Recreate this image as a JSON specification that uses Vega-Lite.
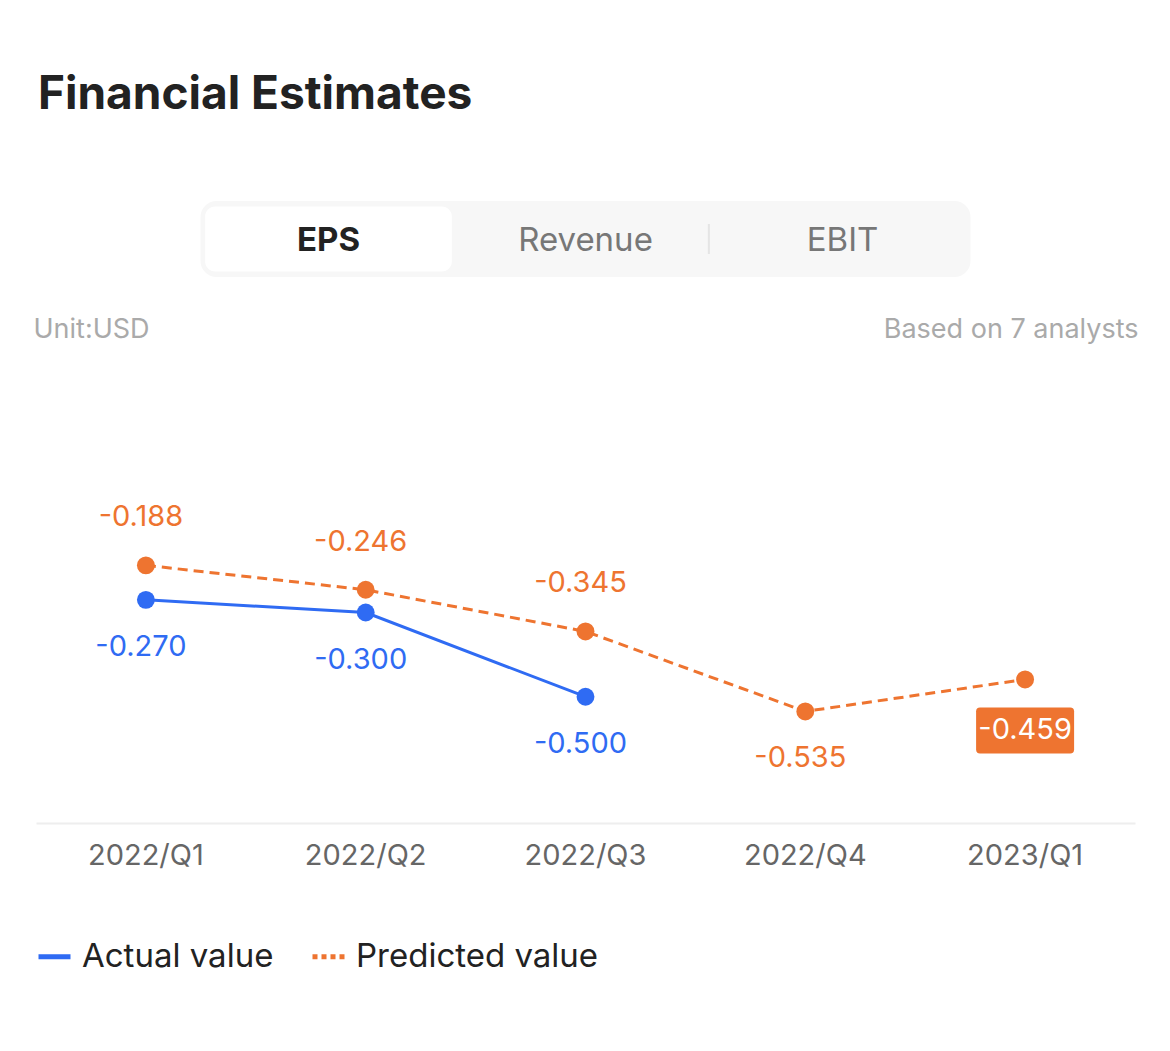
{
  "$schema": "https://vega.github.io/schema/vega-lite/v6.json",
  "background": "white",
  "padding": {"left": 33, "top": 72, "right": 0, "bottom": 20},
  "title": {"text": "Financial Estimates", "anchor": "start", "fontSize": 46, "fontWeight": "bold", "color": "#222222", "offset": 82, "dx": 5},
  "spacing": 125,
  "bounds": "flush",
  "center": true,
  "config": {
    "font": "Inter",
    "view": {"stroke": null},
    "locale": {"number": {"decimal": ".", "thousands": ",", "grouping": [3], "currency": ["$", ""], "minus": "-"}}
  },
  "vconcat": [
    {
      "width": 770,
      "height": 76,
      "view": {"fill": "#f7f7f7", "cornerRadius": 16, "stroke": null},
      "data": {"values": [
        {"tab": "EPS", "active": true},
        {"tab": "Revenue", "active": false},
        {"tab": "EBIT", "active": false}
      ]},
      "encoding": {
        "x": {"field": "tab", "type": "nominal", "sort": null, "scale": {"type": "band", "paddingInner": 0.04, "paddingOuter": 0.018}, "axis": null}
      },
      "layer": [
        {
          "transform": [{"filter": "datum.active"}],
          "mark": {"type": "rect", "fill": "#ffffff", "cornerRadius": 10},
          "encoding": {"y": {"datum": "tab", "type": "nominal", "scale": {"type": "band", "paddingOuter": 0.085, "paddingInner": 0}, "axis": null}}
        },
        {
          "transform": [{"filter": "datum.active"}],
          "mark": {"type": "text", "fontSize": 33, "fontWeight": "bold", "color": "#222222", "dy": 2},
          "encoding": {"text": {"field": "tab"}}
        },
        {
          "transform": [{"filter": "!datum.active"}],
          "mark": {"type": "text", "fontSize": 33, "color": "#777777", "dy": 2},
          "encoding": {"text": {"field": "tab"}}
        },
        {
          "transform": [{"filter": "datum.active"}],
          "mark": {"type": "tick", "orient": "vertical", "size": 30, "thickness": 2, "color": "#dddddd"},
          "encoding": {"x": {"datum": "Revenue", "type": "nominal", "bandPosition": 1}}
        }
      ]
    },
    {
      "width": 1099,
      "height": 421,
      "data": {"values": [
        {"quarter": "2022/Q1", "series": "Actual value", "value": -0.27},
        {"quarter": "2022/Q2", "series": "Actual value", "value": -0.3},
        {"quarter": "2022/Q3", "series": "Actual value", "value": -0.5},
        {"quarter": "2022/Q1", "series": "Predicted value", "value": -0.188},
        {"quarter": "2022/Q2", "series": "Predicted value", "value": -0.246},
        {"quarter": "2022/Q3", "series": "Predicted value", "value": -0.345},
        {"quarter": "2022/Q4", "series": "Predicted value", "value": -0.535},
        {"quarter": "2023/Q1", "series": "Predicted value", "value": -0.459}
      ]},
      "encoding": {
        "x": {
          "field": "quarter", "type": "ordinal", "sort": null,
          "scale": {"type": "band", "paddingInner": 0, "paddingOuter": 0},
          "axis": {"title": null, "domainColor": "#eeeeee", "domainWidth": 2, "ticks": false, "labelFontSize": 29, "labelColor": "#666666", "labelPadding": 18, "labelAngle": 0}
        },
        "y": {"field": "value", "type": "quantitative", "scale": {"domain": [-0.8, 0.2], "nice": false, "zero": false}, "axis": null}
      },
      "resolve": {"axis": {"y": "independent"}},
      "layer": [
        {
          "transform": [{"filter": "datum.series == 'Actual value'"}],
          "mark": {"type": "line", "strokeWidth": 3},
          "encoding": {
            "y": {"field": "value", "type": "quantitative", "axis": {"orient": "left", "title": "Unit:USD", "labels": false, "ticks": false, "domain": false, "grid": false, "titleAngle": 0, "titleAlign": "left", "titleBaseline": "middle", "titleX": -3, "titleY": -73, "titleFontSize": 27, "titleColor": "#aaaaaa", "titleFontWeight": "normal"}},
            "color": {
              "field": "series", "type": "nominal",
              "scale": {"domain": ["Actual value", "Predicted value"], "range": ["#2f6bf3", "#ee7430"]},
              "legend": {
                "title": null, "orient": "bottom", "direction": "horizontal", "symbolType": "stroke", "symbolSize": 1024, "symbolStrokeWidth": 5,
                "labelFontSize": 33, "labelColor": "#222222", "labelLimit": 500, "columnPadding": 28, "labelOffset": 9, "offset": 68,
                "encode": {"symbols": {"update": {"strokeDash": {"signal": "datum.value == 'Predicted value' ? [5, 4] : [1, 0]"}}}}
              }
            }
          }
        },
        {
          "transform": [{"filter": "datum.series == 'Predicted value'"}],
          "mark": {"type": "line", "strokeWidth": 3, "strokeDash": [10, 6]},
          "encoding": {
            "y": {"field": "value", "type": "quantitative", "axis": null},
            "color": {"field": "series", "type": "nominal"}
          }
        },
        {
          "mark": {"type": "point", "filled": true, "size": 320, "opacity": 1},
          "encoding": {
            "y": {"field": "value", "type": "quantitative", "axis": {"orient": "right", "title": "Based on 7 analysts", "labels": false, "ticks": false, "domain": false, "grid": false, "titleAngle": 0, "titleAlign": "right", "titleBaseline": "middle", "titleX": 3, "titleY": -73, "titleFontSize": 27, "titleColor": "#aaaaaa", "titleFontWeight": "normal"}},
            "color": {"field": "series", "type": "nominal"}
          }
        },
        {
          "transform": [{"filter": "datum.series == 'Predicted value' && datum.quarter != '2022/Q4' && datum.quarter != '2023/Q1'"}],
          "mark": {"type": "text", "fontSize": 29, "dy": -48, "dx": -5},
          "encoding": {
            "text": {"field": "value", "type": "quantitative", "format": ".3f"},
            "color": {"field": "series", "type": "nominal"}
          }
        },
        {
          "transform": [{"filter": "datum.series == 'Actual value' || datum.quarter == '2022/Q4'"}],
          "mark": {"type": "text", "fontSize": 29, "dy": 47, "dx": -5},
          "encoding": {
            "text": {"field": "value", "type": "quantitative", "format": ".3f"},
            "color": {"field": "series", "type": "nominal"}
          }
        },
        {
          "transform": [{"filter": "datum.quarter == '2023/Q1'"}],
          "mark": {"type": "point", "filled": true, "opacity": 1, "size": 9604, "yOffset": 51, "color": "#ee7430",
            "shape": "M -0.92 -0.469 L 0.92 -0.469 Q 1 -0.469 1 -0.39 L 1 0.39 Q 1 0.469 0.92 0.469 L -0.92 0.469 Q -1 0.469 -1 0.39 L -1 -0.39 Q -1 -0.469 -0.92 -0.469 Z"},
          "encoding": {}
        },
        {
          "transform": [{"filter": "datum.quarter == '2023/Q1'"}],
          "mark": {"type": "text", "fontSize": 29, "dy": 51, "color": "#ffffff"},
          "encoding": {
            "text": {"field": "value", "type": "quantitative", "format": ".3f"}
          }
        }
      ]
    }
  ]
}
